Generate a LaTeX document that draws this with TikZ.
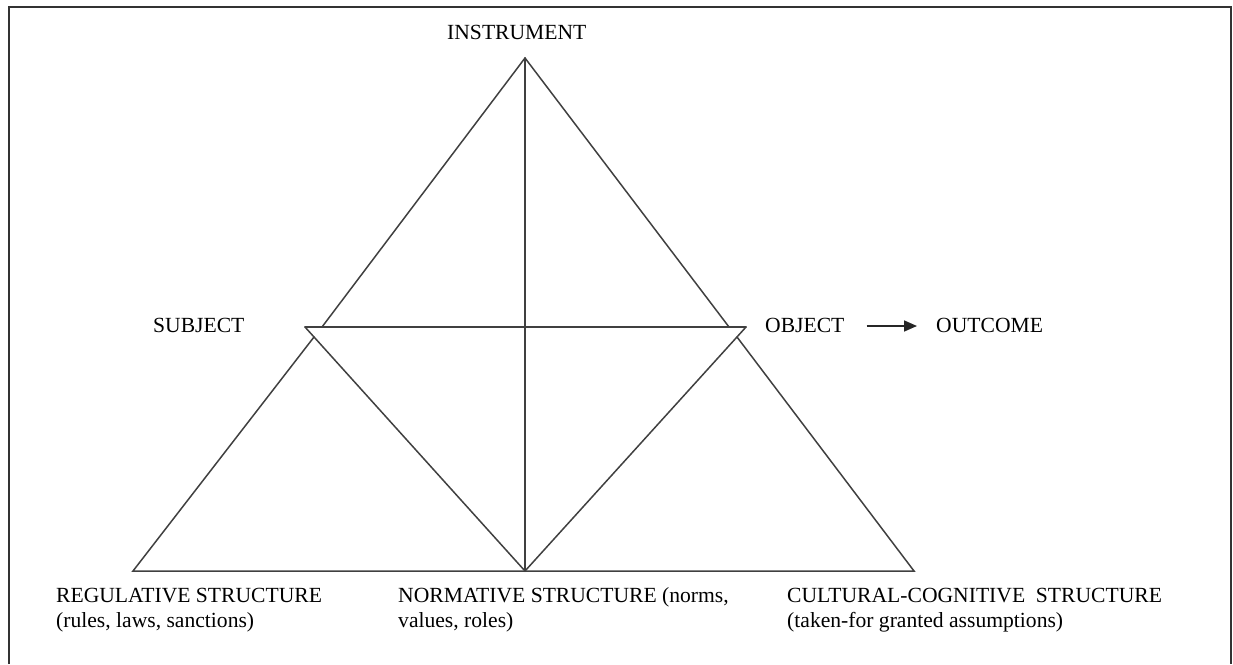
\documentclass[tikz,border=0pt]{standalone}
\usepackage{fontspec}
\setmainfont{Liberation Serif}
\usetikzlibrary{arrows.meta}
\begin{document}
\begin{tikzpicture}[x=1pt,y=-1pt,
  edge/.style={line width=1.5pt, draw=black!75, line join=miter, line cap=round},
  lbl/.style={font=\fontsize{21.6}{25}\selectfont, inner sep=0pt, anchor=base west, text=black}]
\useasboundingbox (0,0) rectangle (1233,664);
% frame
\draw[line width=1.2pt, black!80] (9,664) -- (9,7) -- (1231,7) -- (1231,664);
% vertices
\coordinate (top) at (525,58);
\coordinate (hl) at (305,327);
\coordinate (hr) at (746,327);
\coordinate (ul) at (322,327);
\coordinate (ur) at (729,327);
\coordinate (bot) at (525,571);
\coordinate (lapex) at (314,337);
\coordinate (rapex) at (737,337);
\coordinate (bl) at (133,571);
\coordinate (br) at (914,571);
% triangles
\draw[edge] (ul) -- (top) -- (ur);
\draw[edge] (hl) -- (hr);
\draw[edge] (top) -- (bot);
\draw[edge] (hl) -- (bot) -- (hr);
\draw[edge] (lapex) -- (bl) -- (br) -- (rapex);
% labels
\node[lbl] (instr) at (447,39) {INSTRUMENT};
\node[lbl] (subj) at (153,332) {SUBJECT};
\node[lbl] (obj) at (765,332) {OBJECT};
\node[lbl] (outc) at (936,332) {OUTCOME};
\node[lbl] (reg1) at (56,602) {REGULATIVE STRUCTURE};
\node[lbl] (reg2) at (56,627) {(rules, laws, sanctions)};
\node[lbl] (norm1) at (398,602) {NORMATIVE STRUCTURE (norms,};
\node[lbl] (norm2) at (398,627) {values, roles)};
\node[lbl] (cult1) at (787,602) {CULTURAL-COGNITIVE\ \ STRUCTURE};
\node[lbl] (cult2) at (787,627) {(taken-for granted assumptions)};
% arrow
\draw[line width=1.6pt, black!85, -{Triangle[length=13pt,width=11pt]},
  shorten <=22pt, shorten >=19pt] (obj.east |- 0,326) -- (outc.west |- 0,326);
\end{tikzpicture}
\end{document}
